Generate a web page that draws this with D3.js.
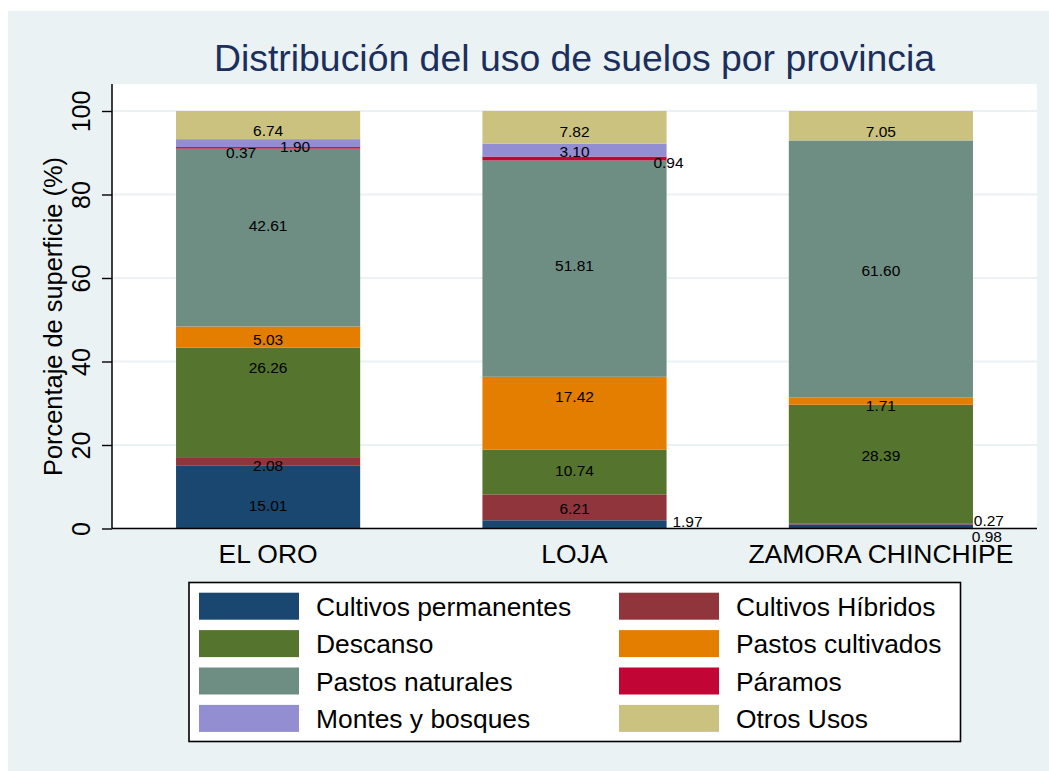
<!DOCTYPE html>
<html>
<head>
<meta charset="utf-8">
<script src="https://cdn.jsdelivr.net/npm/d3@7.9.0/dist/d3.min.js"></script>
<style>
  body { margin: 0; background: #fff; }
  svg text { font-family: "Liberation Sans", Arial, sans-serif; }
</style>
</head>
<body>
<svg id="chart" width="1049" height="771"></svg>
<script>
// datos
const provincias = ['EL ORO', 'LOJA', 'ZAMORA CHINCHIPE'];
const categorias = ['Cultivos permanentes', 'Cultivos Híbridos', 'Descanso', 'Pastos cultivados',
  'Pastos naturales', 'Páramos', 'Montes y bosques', 'Otros Usos'];
const elOro  = [15.01, 2.08, 26.26, 5.03, 42.61, 0.37, 1.90, 6.74];
const loja   = [1.97, 6.21, 10.74, 17.42, 51.81, 0.94, 3.10, 7.82];
const zamora = [0.98, 0.27, 28.39, 1.71, 61.60, 0, 0, 7.05];
const yTicks = [0, 20, 40, 60, 80, 100];

// donde quedan las etiquetas (en % del eje y, y desplazamiento en px)
const labelY = [
  [5.46, 15.2, 38.7, 45.4, 72.5, 90.0, 91.4, 95.3],
  [1.6, 4.7, 14.0, 31.7, 63.1, 87.6, 90.4, 95.2],
  [-2.0, 1.9, 17.6, 29.6, 61.9, null, null, 95.2]
];
const labelDx = [
  [0, 0, 0, 0, 0, -27, 27, 0],
  [113, 0, 0, 0, 0, 94, 0, 0],
  [106, 108, 0, 0, 0, 0, 0, 0]
];

const colores = ['#1a476f', '#90353b', '#55752f', '#e37e00', '#6e8e84', '#c10534', '#938dd2', '#cac27e'];

const svg = d3.select('#chart');

svg.append('rect').attr('x', 8).attr('y', 11).attr('width', 1041).attr('height', 760)
  .attr('fill', '#eaf2f3');

const plot = { left: 112, right: 1037, top: 84, bottom: 528.5 };

svg.append('rect')
  .attr('x', plot.left).attr('y', plot.top)
  .attr('width', plot.right - plot.left).attr('height', plot.bottom - plot.top)
  .attr('fill', '#fff');

const x = d3.scaleBand()
  .domain(provincias)
  .range([plot.left, plot.right])
  .paddingInner(0.399)
  .paddingOuter(0.209);

const y = d3.scaleLinear().domain([0, 100]).range([plot.bottom, 111]);

// líneas de grilla
svg.append('g').selectAll('line')
  .data(yTicks)
  .join('line')
  .attr('x1', plot.left).attr('x2', plot.right)
  .attr('y1', d => y(d)).attr('y2', d => y(d))
  .attr('stroke', '#eaf2f3').attr('stroke-width', 2);

// barras apiladas
const filas = provincias.map((p, i) => {
  const vals = [elOro, loja, zamora][i];
  const row = { provincia: p };
  categorias.forEach((c, j) => { row[c] = vals[j]; });
  return row;
});
const series = d3.stack().keys(categorias)(filas);

svg.append('g').selectAll('g')
  .data(series)
  .join('g')
  .attr('fill', (d, i) => colores[i])
  .selectAll('rect')
  .data(d => d)
  .join('rect')
  .attr('x', d => x(d.data.provincia))
  .attr('width', x.bandwidth())
  .attr('y', d => y(d[1]))
  .attr('height', d => y(d[0]) - y(d[1]));

// etiquetas de valores
const etiquetas = [];
provincias.forEach((p, i) => {
  const vals = [elOro, loja, zamora][i];
  vals.forEach((v, j) => {
    if (v > 0 && labelY[i][j] !== null) {
      etiquetas.push({ provincia: p, valor: v, pos: labelY[i][j], dx: labelDx[i][j] });
    }
  });
});

svg.append('g').selectAll('text')
  .data(etiquetas)
  .join('text')
  .attr('x', d => x(d.provincia) + x.bandwidth() / 2 + d.dx)
  .attr('y', d => y(d.pos))
  .attr('dy', '0.36em')
  .attr('text-anchor', 'middle')
  .attr('font-size', 15.5)
  .attr('fill', '#000')
  .text(d => d.valor.toFixed(2));

// ejes
const yAxis = svg.append('g').attr('transform', `translate(${plot.left},0)`)
  .call(d3.axisLeft(y).tickValues(yTicks).tickSize(10).tickPadding(0).tickFormat(d3.format('d')));
yAxis.select('.domain').remove();
yAxis.selectAll('.tick line').attr('stroke', '#000').attr('stroke-width', 1.4);
yAxis.selectAll('.tick text')
  .attr('font-size', 25)
  .attr('fill', '#000')
  .attr('text-anchor', 'middle')
  .attr('x', null).attr('dy', null)
  .attr('transform', 'translate(-22,0) rotate(-90)');

svg.append('line')
  .attr('x1', plot.left).attr('x2', plot.left)
  .attr('y1', plot.top).attr('y2', plot.bottom)
  .attr('stroke', '#000').attr('stroke-width', 1.5);

const xAxis = svg.append('g').attr('transform', `translate(0,${plot.bottom})`)
  .call(d3.axisBottom(x).tickSize(0).tickPadding(0));
xAxis.select('.domain').attr('stroke', '#000').attr('stroke-width', 1.5)
  .attr('d', `M${plot.left},0H${plot.right}`);
xAxis.selectAll('.tick text')
  .attr('font-size', 26.5)
  .attr('fill', '#000')
  .attr('dy', null)
  .attr('y', 34.5);

// títulos
svg.append('text')
  .attr('x', 574.5).attr('y', 71)
  .attr('text-anchor', 'middle')
  .attr('font-size', 37.4)
  .attr('fill', '#1c2f5c')
  .text('Distribución del uso de suelos por provincia');

svg.append('text')
  .attr('transform', 'translate(62,316.5) rotate(-90)')
  .attr('text-anchor', 'middle')
  .attr('font-size', 25.4)
  .attr('fill', '#000')
  .text('Porcentaje de superficie (%)');

// leyenda
const legend = svg.append('g');
legend.append('rect')
  .attr('x', 189).attr('y', 582.5).attr('width', 771.5).attr('height', 159)
  .attr('fill', '#fff').attr('stroke', '#000').attr('stroke-width', 1.6);

const item = legend.selectAll('g.item')
  .data(categorias)
  .join('g')
  .attr('class', 'item')
  .attr('transform', (d, i) => `translate(${i % 2 === 0 ? 199 : 619},${592.7 + Math.floor(i / 2) * 37.4})`);

item.append('rect')
  .attr('width', 100).attr('height', 27)
  .attr('fill', (d, i) => colores[i]);

item.append('text')
  .attr('x', 117).attr('y', 23.3)
  .attr('font-size', 26.4)
  .attr('fill', '#000')
  .text(d => d);
</script>
</body>
</html>
